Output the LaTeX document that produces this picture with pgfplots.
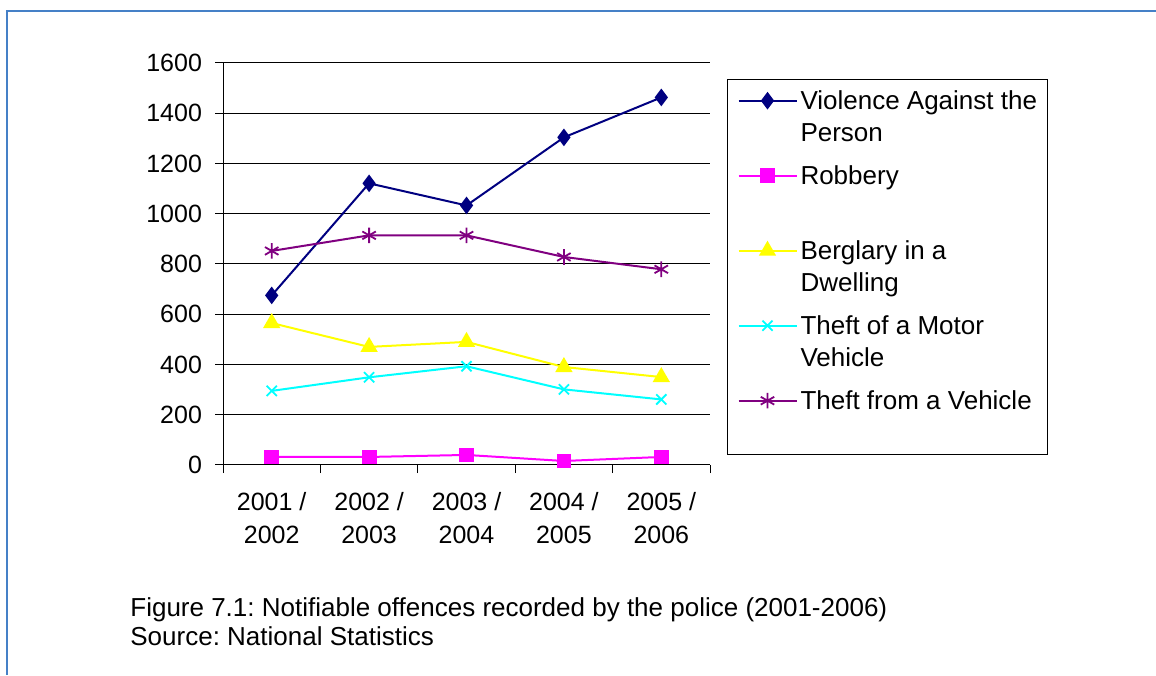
\documentclass[border=0pt]{standalone}
\usepackage{fontspec}
\setmainfont{Liberation Sans}
\usepackage{pgfplots}
\pgfplotsset{compat=1.18}

\definecolor{framebl}{RGB}{69,128,199}
\definecolor{cnavy}{RGB}{0,0,128}
\definecolor{cmag}{RGB}{255,0,255}
\definecolor{cyel}{RGB}{255,255,0}
\definecolor{ccyan}{RGB}{0,255,255}
\definecolor{cpurp}{RGB}{128,0,128}

\newcommand{\ent}[1]{\makebox[117pt][l]{\begin{tabular}[t]{@{}l@{}}#1\end{tabular}}}

\begin{document}
\frenchspacing
\begin{tikzpicture}
% page 1156x675 px at 0.5pt per px
\path[use as bounding box] (0,0) rectangle (578pt,337.5pt);
\draw[framebl, line width=1.1pt] (3.5pt,0) -- (3.5pt,332pt);
\draw[framebl, line width=1.1pt] (2.95pt,332pt) -- (578pt,332pt);

\begin{axis}[
  at={(111.5pt,105pt)}, anchor=south west,
  scale only axis, width=243.5pt, height=201pt,
  xmin=-0.5, xmax=4.5, ymin=0, ymax=1600,
  ytick={0,200,...,1600},
  xtick={0,1,2,3,4},
  xticklabels={2001 /\\2002, 2002 /\\2003, 2003 /\\2004, 2004 /\\2005, 2005 /\\2006},
  minor xtick={-0.5,0.5,...,4.5},
  axis x line*=bottom, axis y line*=left,
  axis line style={-, black, line width=0.5pt},
  tick align=outside,
  major tick length=4pt, minor tick length=4pt,
  major x tick style={draw=none},
  every tick/.style={black, line width=0.5pt},
  minor x tick style={black, line width=0.5pt},
  ymajorgrids, grid style={black, line width=0.5pt},
  /pgf/number format/1000 sep={},
  /pgf/number format/assume math mode=true,
  yticklabel style={font=\fontsize{12.5}{15}\selectfont, xshift=-3pt},
  xticklabel style={align=center, font=\fontsize{12.5}{16.7}\selectfont, yshift=-6pt},
  legend style={
    at={(1.0349,0.9602)}, anchor=north west,
    draw=black, line width=0.5pt,
    inner xsep=5pt, inner ysep=0pt,
    column sep=0pt, row sep=0pt,
    font=\fontsize{13}{15.7}\selectfont,
    cells={anchor=base west},
    nodes={inner xsep=1.5pt, inner ysep=0pt, text height=15.2pt, text depth=22.3pt},
  },
  legend image code/.code={
    \draw[mark repeat=2, mark phase=2, #1] plot coordinates {(0pt,4.6pt) (14.5pt,4.6pt) (29pt,4.6pt)};
  },
]
\addplot[cnavy, line width=1pt, mark=diamond*, mark size=3.6pt, mark options={solid, fill=cnavy}]
  coordinates {(0,675) (1,1121) (2,1033) (3,1304) (4,1463)};
\addlegendentry{\ent{Violence Against the\\Person}}
\addplot[cmag, line width=1pt, mark=square*, mark size=3.2pt, mark options={solid, fill=cmag}]
  coordinates {(0,32) (1,32) (2,40) (3,16) (4,32)};
\addlegendentry{\ent{Robbery}}
\addplot[cyel, line width=1pt, mark=triangle*, mark size=4pt, mark options={solid, fill=cyel}]
  coordinates {(0,565) (1,470) (2,490) (3,390) (4,350)};
\addlegendentry{\ent{Berglary in a\\Dwelling}}
\addplot[ccyan, line width=1pt, mark=x, mark size=3.6pt, mark options={solid, line width=0.9pt}]
  coordinates {(0,295) (1,349) (2,393) (3,301) (4,261)};
\addlegendentry{\ent{Theft of a Motor\\Vehicle}}
\addplot[cpurp, line width=1pt, mark=asterisk, mark size=3.9pt, mark options={solid, line width=0.9pt}]
  coordinates {(0,852) (1,914) (2,914) (3,828) (4,779)};
\addlegendentry{\ent{Theft from a Vehicle}}
\end{axis}

\node[anchor=base west, inner sep=0pt, font=\fontsize{13}{15.7}\selectfont]
  at (65pt,29.5pt) {Figure 7.1: Notifiable offences recorded by the police (2001-2006)};
\node[anchor=base west, inner sep=0pt, font=\fontsize{13}{15.7}\selectfont]
  at (65pt,15pt) {Source: National Statistics};
\end{tikzpicture}
\end{document}
